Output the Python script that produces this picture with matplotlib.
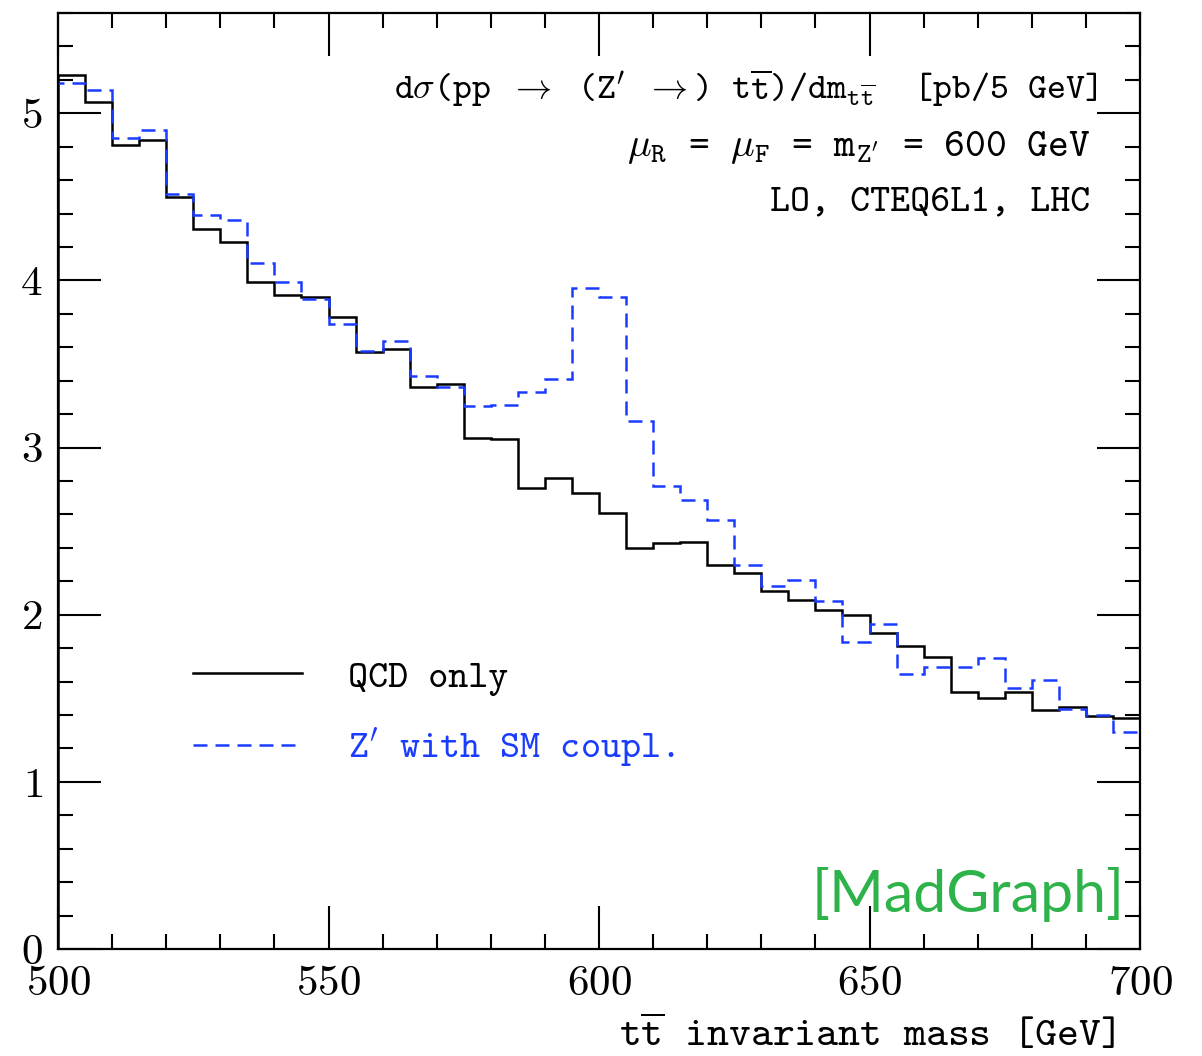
import numpy as np
import matplotlib
matplotlib.use("Agg")
import matplotlib.pyplot as plt
from matplotlib.ticker import MultipleLocator

# tt~ invariant mass, 5 GeV bins from 500 to 700 GeV
mass_edges = np.arange(500, 705, 5)

# d sigma / d m_tt [pb / 5 GeV]
qcd_only = [5.23, 5.07, 4.81, 4.84, 4.50, 4.31, 4.23, 3.99, 3.91, 3.90,
            3.78, 3.57, 3.59, 3.36, 3.38, 3.06, 3.05, 2.76, 2.82, 2.73,
            2.61, 2.40, 2.43, 2.435, 2.30, 2.25, 2.14, 2.09, 2.03, 2.00,
            1.89, 1.81, 1.75, 1.54, 1.50, 1.535, 1.43, 1.45, 1.395, 1.38]

zprime_sm = [5.18, 5.14, 4.85, 4.90, 4.515, 4.39, 4.36, 4.105, 3.99, 3.886,
             3.74, 3.58, 3.64, 3.43, 3.36, 3.25, 3.257, 3.33, 3.41, 3.955,
             3.90, 3.16, 2.77, 2.685, 2.565, 2.30, 2.17, 2.21, 2.08, 1.836,
             1.944, 1.645, 1.687, 1.687, 1.744, 1.56, 1.61, 1.437, 1.40, 1.30]

labels = ["QCD only", r"$\mathtt{Z}'$ with SM coupl."]
blue = "#1a3cff"
green = "#2db34a"
tt = "cmtt10"

plt.rcParams["font.family"] = "cmr10"
plt.rcParams["mathtext.fontset"] = "cm"
plt.rcParams["axes.formatter.use_mathtext"] = True

fig = plt.figure(figsize=(12.02, 10.56), dpi=100)
ax = fig.add_axes([58 / 1202, 107 / 1056, 1082 / 1202, 936 / 1056])

ax.stairs(qcd_only, mass_edges, baseline=0, color="black", lw=1.8, label=labels[0])
ax.stairs(zprime_sm, mass_edges, baseline=0, color=blue, lw=1.8,
          linestyle=(0, (5.6, 3.2)), label=labels[1])

ax.set_xlim(500, 700)
ax.set_ylim(0, 5.6)
ax.xaxis.set_major_locator(MultipleLocator(50))
ax.xaxis.set_minor_locator(MultipleLocator(10))
ax.yaxis.set_major_locator(MultipleLocator(1))
ax.yaxis.set_minor_locator(MultipleLocator(0.2))
ax.tick_params(which="both", direction="in", top=True, right=True, width=1.5,
               labelsize=31)
ax.tick_params(which="major", length=31)
ax.tick_params(which="minor", length=11)
ax.tick_params(axis="y", pad=11)
ax.tick_params(axis="x", pad=12)
for sp in ax.spines.values():
    sp.set_linewidth(1.6)

leg = ax.legend(loc="center left", bbox_to_anchor=(193 / 1202, 341.5 / 1056),
                bbox_transform=fig.transFigure, frameon=False,
                prop={"family": tt, "size": 27.5},
                handlelength=2.85, handletextpad=1.2, labelspacing=0.8,
                borderpad=0, borderaxespad=0)
leg.get_texts()[1].set_color(blue)

# process description, top right
fig.text(1097 / 1202, 1 - 88 / 1056,
         r"d$\sigma$(pp $\rightarrow$ ($\mathtt{Z}'$ $\rightarrow$) $\mathtt{t\overline{t}}$)/dm$_{\mathtt{t\overline{t}}}$  [pb/5 GeV]",
         ha="right", va="center", fontsize=26, family=tt)
fig.text(1090 / 1202, 1 - 147 / 1056,
         r"$\mu_\mathtt{R}$ = $\mu_\mathtt{F}$ = m$_{\mathtt{Z}'}$ = 600 GeV",
         ha="right", va="center", fontsize=28.5, family=tt)
fig.text(1090 / 1202, 1 - 203 / 1056, "LO, CTEQ6L1, LHC",
         ha="right", va="center", fontsize=27.4, family=tt)

fig.text(1125 / 1202, 1 - 895 / 1056, "[MadGraph]", ha="right", va="center",
         fontsize=42.5, color=green, family="Lato")

fig.text(1115 / 1202, 10 / 1056, r"$\mathtt{t\overline{t}}$ invariant mass [GeV]",
         ha="right", va="baseline", fontsize=30, family=tt)

fig.savefig("out.png", dpi=100)
